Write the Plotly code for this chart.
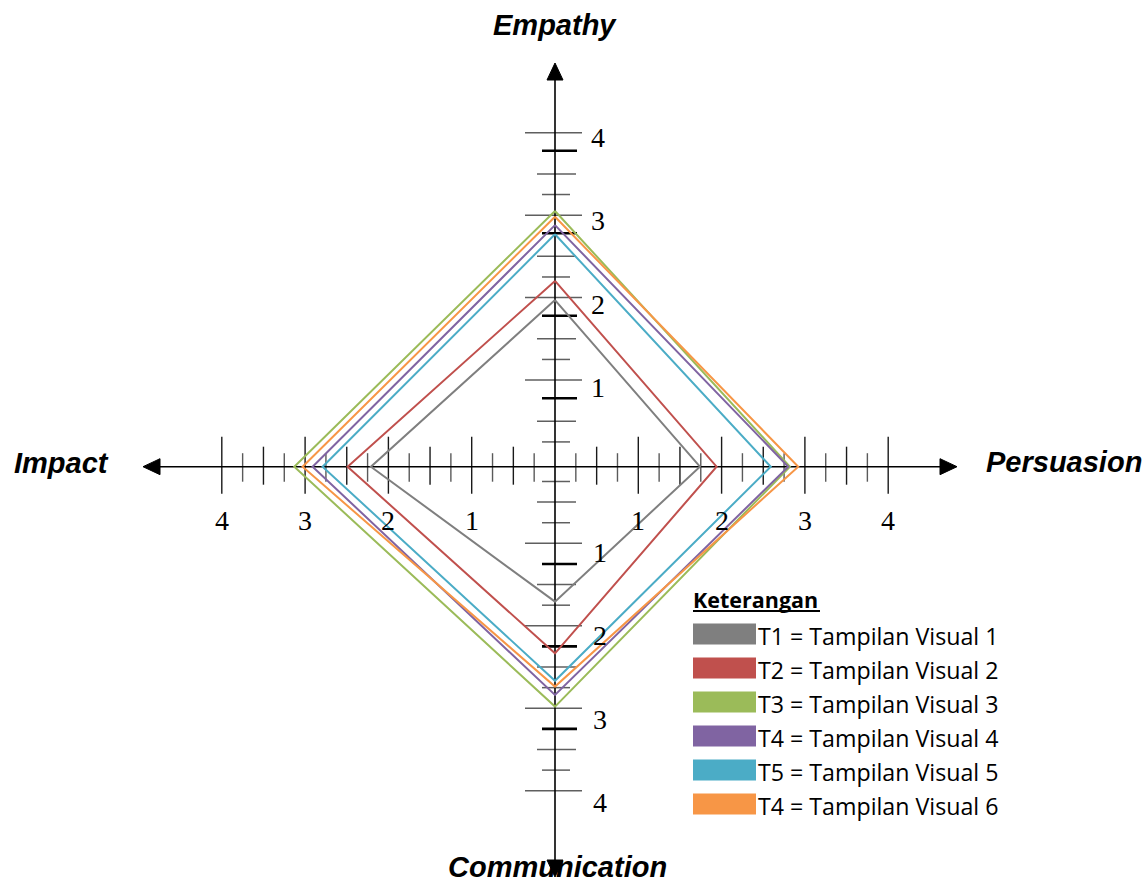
import plotly.graph_objects as go

# ---- data -------------------------------------------------------------
dimensions = ["Empathy", "Persuasion", "Communication", "Impact"]
series_labels = [
    "T1 = Tampilan Visual 1",
    "T2 = Tampilan Visual 2",
    "T3 = Tampilan Visual 3",
    "T4 = Tampilan Visual 4",
    "T5 = Tampilan Visual 5",
    "T4 = Tampilan Visual 6",
]
empathy = [2.00, 2.23, 3.07, 2.90, 2.79, 3.00]
persuasion = [1.74, 1.94, 2.82, 2.80, 2.59, 2.92]
communication = [1.62, 2.24, 2.88, 2.74, 2.57, 2.64]
impact = [2.21, 2.49, 3.13, 2.91, 2.79, 3.03]
series_colors = ["#7F7F7F", "#C0504D", "#9BBB59", "#8064A2", "#4BACC6", "#F79646"]
scale_labels = ["1", "2", "3", "4"]
legend_title = "Keterangan"

# ---- page geometry ----------------------------------------------------
W, H = 1143, 882
PX = 83.3            # pixels per scale unit
CX, CY = 555, 466.7  # origin of the cross, page pixels


def u(px):
    return px / PX


def paper_x(px):
    return px / W


def paper_y(py):
    return 1 - py / H


fig = go.Figure()


def seg_trace(segs, color, width):
    xs, ys = [], []
    for x0, y0, x1, y1 in segs:
        xs += [x0, x1, None]
        ys += [y0, y1, None]
    return go.Scatter(x=xs, y=ys, mode="lines", line=dict(color=color, width=width),
                      hoverinfo="skip", showlegend=False)


# ---- tick marks on the horizontal axis --------------------------------
h_dark, h_light = [], []
for side in (1, -1):
    for k in range(1, 17):
        x = side * k / 4
        if k % 4 == 0:
            h_dark.append((x, u(30), x, -u(27)))
        elif k % 2 == 0:
            h_dark.append((x, u(20), x, -u(18)))
        else:
            h_light.append((x, u(13.5), x, -u(15)))

# ---- tick marks on the vertical axis ----------------------------------
v_light, v_heavy = [], []
step = 0.2475
widths = {"short": (13, 15), "medium": (18, 21), "wide": (30, 27)}
# upper arm
for k in range(1, 17):
    y = 0.05 + step * k
    if k % 4 == 3:
        v_heavy.append((-u(13), y + 0.03, u(22), y + 0.03))
        continue
    kind = {1: "short", 2: "medium", 0: "wide"}[k % 4]
    l, r = widths[kind]
    v_light.append((-u(l), y, u(r), y))
# lower arm
for k in range(1, 17):
    y = -(-0.07 + step * k)
    if k % 4 == 1 and k > 1:
        v_heavy.append((-u(13), y, u(22), y))
        continue
    kind = {1: "short", 2: "medium", 3: "short", 0: "wide"}[k % 4]
    l, r = widths[kind]
    v_light.append((-u(l), y, u(r), y))

fig.add_trace(seg_trace(h_light, "#5a5a5a", 1.4))
fig.add_trace(seg_trace(h_dark, "#1a1a1a", 1.4))
fig.add_trace(seg_trace(v_light, "#5f5f5f", 1.5))
fig.add_trace(seg_trace(v_heavy, "#000000", 2.6))

# ---- axes lines -------------------------------------------------------
x_left, x_right = u(143 - CX), u(957 - CX)
y_top, y_bottom = u(CY - 63), u(CY - 877)
fig.add_trace(seg_trace([(x_left + 0.1, 0, x_right - 0.1, 0),
                         (0, y_top - 0.1, 0, y_bottom + 0.1)], "#000000", 1.6))

# ---- one closed diamond per display -----------------------------------
for name, e, p, c, i, col in zip(series_labels, empathy, persuasion,
                                 communication, impact, series_colors):
    fig.add_trace(go.Scatter(
        x=[0, p, 0, -i, 0],
        y=[e, 0, -c, 0, e],
        mode="lines",
        line=dict(color=col, width=2),
        name=name,
        showlegend=False,
        hoverinfo="skip",
    ))

# ---- arrow heads ------------------------------------------------------
head_len, head_half = u(17), u(8)
arrows = [
    [(0, y_top), (-head_half, y_top - head_len), (head_half, y_top - head_len)],
    [(0, y_bottom), (-head_half, y_bottom + head_len), (head_half, y_bottom + head_len)],
    [(x_right, 0), (x_right - head_len, head_half), (x_right - head_len, -head_half)],
    [(x_left, 0), (x_left + head_len, head_half), (x_left + head_len, -head_half)],
]
shapes = []
for tri in arrows:
    path = "M " + " L ".join(f"{x:.4f},{y:.4f}" for x, y in tri) + " Z"
    shapes.append(dict(type="path", path=path, xref="x", yref="y",
                       fillcolor="#000000", line=dict(color="#000000", width=1)))

# ---- scale numbers ----------------------------------------------------
annotations = []
num_font = dict(family="Liberation Serif, Times New Roman, serif", size=28, color="#000000")
for idx, lab in enumerate(scale_labels):
    k = idx + 1
    annotations += [
        dict(x=k, y=u(CY - 520), text=lab, xref="x", yref="y", showarrow=False,
             font=num_font, xanchor="center", yanchor="middle"),
        dict(x=-k, y=u(CY - 520), text=lab, xref="x", yref="y", showarrow=False,
             font=num_font, xanchor="center", yanchor="middle"),
        dict(x=u(598 - CX), y=k - 0.05, text=lab, xref="x", yref="y", showarrow=False,
             font=num_font, xanchor="center", yanchor="middle"),
        dict(x=u(600 - CX), y=-k - 0.03, text=lab, xref="x", yref="y", showarrow=False,
             font=num_font, xanchor="center", yanchor="middle"),
    ]

# ---- dimension titles -------------------------------------------------
title_font = dict(family="Liberation Sans, Arial, sans-serif", size=29, color="#000000")
title_pos = {
    "Empathy": (555, 25, "center"),
    "Persuasion": (984, 462, "left"),
    "Communication": (557, 867, "center"),
    "Impact": (12, 463, "left"),
}
for dim in dimensions:
    px, py, anchor = title_pos[dim]
    annotations.append(dict(x=paper_x(px), y=paper_y(py), xref="paper", yref="paper",
                            text=f"<b><i>{dim}</i></b>", showarrow=False, font=title_font,
                            xanchor=anchor, yanchor="middle"))

# ---- legend box -------------------------------------------------------
head_font = dict(family="Open Sans, Noto Sans, sans-serif", size=21.5, color="#000000")
leg_font = dict(family="Open Sans, Noto Sans, sans-serif", size=23.2, color="#000000")
annotations.append(dict(x=paper_x(691), y=paper_y(599), xref="paper", yref="paper",
                        text=f"<b>{legend_title}</b>", showarrow=False, font=head_font,
                        xanchor="left", yanchor="middle"))
shapes.append(dict(type="line", xref="paper", yref="paper",
                   x0=paper_x(693), x1=paper_x(820), y0=paper_y(611), y1=paper_y(611),
                   line=dict(color="#000000", width=2)))
for row, (name, col) in enumerate(zip(series_labels, series_colors)):
    cy = 636 + 34 * row
    shapes.append(dict(type="rect", xref="paper", yref="paper",
                       x0=paper_x(693), x1=paper_x(756),
                       y0=paper_y(cy - 12.5), y1=paper_y(cy + 8.5),
                       fillcolor=col, line=dict(width=0)))
    annotations.append(dict(x=paper_x(756), y=paper_y(cy), xref="paper", yref="paper",
                            text=name, showarrow=False, font=leg_font,
                            xanchor="left", yanchor="middle"))

fig.update_layout(
    width=W, height=H,
    margin=dict(l=0, r=0, t=0, b=0),
    paper_bgcolor="#ffffff", plot_bgcolor="#ffffff",
    xaxis=dict(range=[-CX / PX, (W - CX) / PX], visible=False, fixedrange=True),
    yaxis=dict(range=[-(H - CY) / PX, CY / PX], visible=False, fixedrange=True),
    shapes=shapes,
    annotations=annotations,
    showlegend=False,
)

fig.write_html("out.html")
